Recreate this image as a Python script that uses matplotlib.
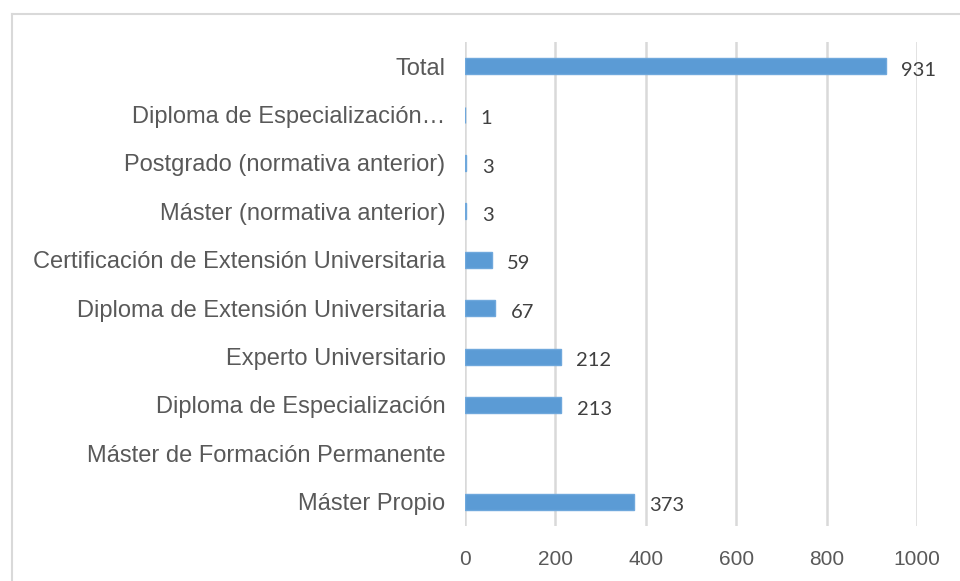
import matplotlib
matplotlib.use("Agg")
import matplotlib.pyplot as plt
from matplotlib.lines import Line2D
import numpy as np

categories = [
    "Máster Propio",
    "Máster de Formación Permanente",
    "Diploma de Especialización",
    "Experto Universitario",
    "Diploma de Extensión Universitaria",
    "Certificación de Extensión Universitaria",
    "Máster (normativa anterior)",
    "Postgrado (normativa anterior)",
    "Diploma de Especialización…",
    "Total",
]
values = [373, None, 213, 212, 67, 59, 3, 3, 1, 931]
xticks = [0, 200, 400, 600, 800, 1000]

bar_color = "#5B9BD5"
text_color = "#595959"
grid_color = "#D9D9D9"

fig = plt.figure(figsize=(9.6, 5.81), dpi=100)
ax = fig.add_axes([465/960, 1-526/581, (917-465)/960, (526-42)/581])

y = np.arange(len(categories))
for yi, v in zip(y, values):
    if v is None:
        continue
    ax.barh(yi, v, height=0.33, color=bar_color, edgecolor="#6FA8DC", linewidth=1.0, zorder=3)
    ax.annotate(str(v), xy=(v, yi), xytext=(11, -3), textcoords="offset points",
                ha="left", va="center", fontsize=14.5, color="#404040",
                family=["Lato", "DejaVu Sans"])

ax.set_xlim(0, 1000)
ax.set_ylim(-0.5, len(categories) - 0.5)
ax.set_xticks(xticks)
ax.set_xticklabels([str(t) for t in xticks], family=["Liberation Sans", "DejaVu Sans"],
                   fontsize=15, color=text_color)
ax.set_yticks(y)
ax.set_yticklabels(categories, family=["Liberation Sans", "DejaVu Sans"],
                   fontsize=17, color=text_color)
ax.tick_params(axis="y", length=0, pad=14)
ax.tick_params(axis="x", length=0, pad=17)
ax.grid(axis="x", color=grid_color, linewidth=1.8, zorder=0)
for s in ax.spines.values():
    s.set_visible(False)

# outer frame (top and left visible)
fig.add_artist(Line2D([12/960, 12/960], [0, 1-14/581], transform=fig.transFigure,
                      color=grid_color, linewidth=1.5))
fig.add_artist(Line2D([12/960, 1], [1-14/581, 1-14/581], transform=fig.transFigure,
                      color=grid_color, linewidth=1.5))

fig.savefig("out.png", dpi=100)
